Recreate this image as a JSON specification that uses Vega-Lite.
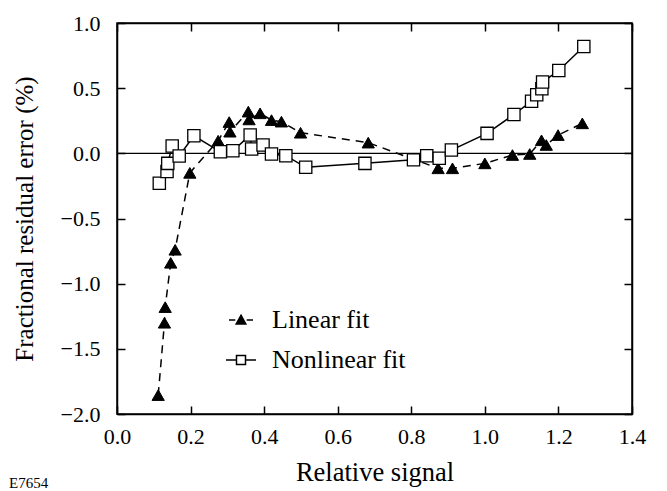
{
  "$schema": "https://vega.github.io/schema/vega-lite/v6.json",
  "width": 515,
  "height": 391,
  "autosize": {"type": "none"},
  "padding": {"left": 117, "top": 23, "right": 35, "bottom": 77},
  "background": "white",
  "config": {
    "view": {"stroke": "black", "strokeWidth": 1.5},
    "font": "Liberation Serif",
    "axis": {
      "grid": false,
      "domainColor": "black",
      "domainWidth": 1.5,
      "tickColor": "black",
      "tickWidth": 1.5,
      "tickSize": -8,
      "labelFont": "Liberation Serif",
      "labelFontSize": 22,
      "labelColor": "black",
      "titleFont": "Liberation Serif",
      "titleFontWeight": "normal",
      "titleColor": "black"
    }
  },
  "title": {
    "text": "E7654",
    "orient": "bottom",
    "anchor": "start",
    "frame": "bounds",
    "font": "Liberation Serif",
    "fontSize": 15,
    "fontWeight": "normal",
    "color": "black",
    "offset": 0,
    "dx": -3,
    "dy": -10
  },
  "data": {
    "values": [
      {"fit": "Linear fit", "signal": 0.112, "error": -1.855},
      {"fit": "Linear fit", "signal": 0.129, "error": -1.30},
      {"fit": "Linear fit", "signal": 0.131, "error": -1.18},
      {"fit": "Linear fit", "signal": 0.146, "error": -0.84},
      {"fit": "Linear fit", "signal": 0.158, "error": -0.74},
      {"fit": "Linear fit", "signal": 0.198, "error": -0.15},
      {"fit": "Linear fit", "signal": 0.275, "error": 0.097},
      {"fit": "Linear fit", "signal": 0.305, "error": 0.24},
      {"fit": "Linear fit", "signal": 0.307, "error": 0.166},
      {"fit": "Linear fit", "signal": 0.357, "error": 0.32},
      {"fit": "Linear fit", "signal": 0.359, "error": 0.26},
      {"fit": "Linear fit", "signal": 0.389, "error": 0.307},
      {"fit": "Linear fit", "signal": 0.42, "error": 0.255},
      {"fit": "Linear fit", "signal": 0.447, "error": 0.243},
      {"fit": "Linear fit", "signal": 0.499, "error": 0.158},
      {"fit": "Linear fit", "signal": 0.683, "error": 0.082},
      {"fit": "Linear fit", "signal": 0.873, "error": -0.115},
      {"fit": "Linear fit", "signal": 0.912, "error": -0.115},
      {"fit": "Linear fit", "signal": 1.0, "error": -0.077},
      {"fit": "Linear fit", "signal": 1.075, "error": -0.013},
      {"fit": "Linear fit", "signal": 1.122, "error": -0.005},
      {"fit": "Linear fit", "signal": 1.154, "error": 0.10},
      {"fit": "Linear fit", "signal": 1.167, "error": 0.064},
      {"fit": "Linear fit", "signal": 1.199, "error": 0.14},
      {"fit": "Linear fit", "signal": 1.265, "error": 0.23},
      {"fit": "Nonlinear fit", "signal": 0.115, "error": -0.23},
      {"fit": "Nonlinear fit", "signal": 0.136, "error": -0.14},
      {"fit": "Nonlinear fit", "signal": 0.138, "error": -0.077},
      {"fit": "Nonlinear fit", "signal": 0.15, "error": 0.056},
      {"fit": "Nonlinear fit", "signal": 0.169, "error": -0.02},
      {"fit": "Nonlinear fit", "signal": 0.209, "error": 0.135},
      {"fit": "Nonlinear fit", "signal": 0.281, "error": 0.012},
      {"fit": "Nonlinear fit", "signal": 0.315, "error": 0.02},
      {"fit": "Nonlinear fit", "signal": 0.362, "error": 0.14},
      {"fit": "Nonlinear fit", "signal": 0.366, "error": 0.033},
      {"fit": "Nonlinear fit", "signal": 0.397, "error": 0.064},
      {"fit": "Nonlinear fit", "signal": 0.42, "error": -0.005},
      {"fit": "Nonlinear fit", "signal": 0.459, "error": -0.018},
      {"fit": "Nonlinear fit", "signal": 0.513, "error": -0.107},
      {"fit": "Nonlinear fit", "signal": 0.674, "error": -0.077},
      {"fit": "Nonlinear fit", "signal": 0.806, "error": -0.05},
      {"fit": "Nonlinear fit", "signal": 0.842, "error": -0.018},
      {"fit": "Nonlinear fit", "signal": 0.876, "error": -0.038},
      {"fit": "Nonlinear fit", "signal": 0.909, "error": 0.025},
      {"fit": "Nonlinear fit", "signal": 1.006, "error": 0.153},
      {"fit": "Nonlinear fit", "signal": 1.079, "error": 0.298},
      {"fit": "Nonlinear fit", "signal": 1.127, "error": 0.40},
      {"fit": "Nonlinear fit", "signal": 1.141, "error": 0.45},
      {"fit": "Nonlinear fit", "signal": 1.155, "error": 0.496},
      {"fit": "Nonlinear fit", "signal": 1.157, "error": 0.547},
      {"fit": "Nonlinear fit", "signal": 1.201, "error": 0.636},
      {"fit": "Nonlinear fit", "signal": 1.269, "error": 0.82}
    ]
  },
  "resolve": {"axis": {"x": "independent", "y": "independent"}},
  "layer": [
    {
      "data": {"values": [{"zero": 0}]},
      "mark": {"type": "rule", "stroke": "black", "strokeWidth": 1.2},
      "encoding": {
        "y": {"field": "zero", "type": "quantitative", "axis": null}
      }
    },
    {
      "transform": [{"filter": "datum.fit === 'Linear fit'"}],
      "mark": {"type": "line", "stroke": "black", "strokeWidth": 1.5, "strokeDash": [8, 6]},
      "encoding": {
        "x": {
          "field": "signal", "type": "quantitative",
          "scale": {"domain": [0, 1.4], "nice": false, "zero": false},
          "axis": {"orient": "bottom", "values": [0, 0.2, 0.4, 0.6, 0.8, 1.0, 1.2, 1.4], "format": ".1f", "title": "Relative signal", "labelFont": "Liberation Serif", "labelFontSize": 22, "labelPadding": 20, "titleFont": "Liberation Serif", "titleFontSize": 26.5, "titlePadding": 12, "labelFlush": false}
        },
        "y": {
          "field": "error", "type": "quantitative",
          "scale": {"domain": [-2, 1], "nice": false, "zero": false},
          "axis": {"orient": "left", "values": [-2, -1.5, -1, -0.5, 0, 0.5, 1], "format": ".1f", "title": "Fractional residual error (%)", "labelFont": "Liberation Serif", "labelFontSize": 22, "labelPadding": 25, "titleFont": "Liberation Serif", "titleFontSize": 25, "titlePadding": 23, "labelFlush": false}
        }
      }
    },
    {
      "transform": [{"filter": "datum.fit === 'Nonlinear fit'"}],
      "mark": {"type": "line", "stroke": "black", "strokeWidth": 1.5},
      "encoding": {
        "x": {
          "field": "signal", "type": "quantitative",
          "axis": {"orient": "top", "values": [0, 0.2, 0.4, 0.6, 0.8, 1.0, 1.2, 1.4], "labels": false, "title": null}
        },
        "y": {
          "field": "error", "type": "quantitative",
          "axis": {"orient": "right", "values": [-2, -1.5, -1, -0.5, 0, 0.5, 1], "labels": false, "title": null}
        }
      }
    },
    {
      "transform": [{"filter": "datum.fit === 'Linear fit'"}],
      "mark": {"type": "point", "shape": "triangle-up", "filled": true, "fill": "black", "stroke": "black", "strokeWidth": 1, "size": 150, "opacity": 1},
      "encoding": {
        "x": {"field": "signal", "type": "quantitative", "axis": null},
        "y": {"field": "error", "type": "quantitative", "axis": null}
      }
    },
    {
      "transform": [{"filter": "datum.fit === 'Nonlinear fit'"}],
      "mark": {"type": "point", "shape": "square", "filled": true, "fill": "white", "stroke": "black", "strokeWidth": 1.3, "size": 150, "opacity": 1},
      "encoding": {
        "x": {"field": "signal", "type": "quantitative", "axis": null},
        "y": {"field": "error", "type": "quantitative", "axis": null}
      }
    },
    {
      "mark": {"type": "point", "filled": true, "stroke": "black", "strokeWidth": 1.5, "size": 0, "opacity": 1},
      "encoding": {
        "x": {"field": "signal", "type": "quantitative", "axis": null},
        "y": {"field": "error", "type": "quantitative", "axis": null},
        "shape": {
          "field": "fit", "type": "nominal",
          "scale": {"domain": ["Linear fit", "Nonlinear fit"], "range": ["M-0.8,0H-0.38M0.38,0H0.8M0,-0.32L0.32,0.26L-0.32,0.26Z", "M-1,0H-0.3M0.3,0H1M-0.3,-0.3H0.3V0.3H-0.3Z"]},
          "legend": {
            "title": null,
            "orient": "none",
            "legendX": 108,
            "legendY": 281,
            "labelFont": "Liberation Serif",
            "labelFontSize": 26,
            "labelColor": "black",
            "labelOffset": 15,
            "rowPadding": 11,
            "symbolSize": 900,
            "encode": {
              "symbols": {
                "update": {
                  "size": {"value": 900},
                  "stroke": {"value": "black"},
                  "strokeWidth": {"value": 1.5},
                  "opacity": {"value": 1}
                }
              }
            }
          }
        },
        "fill": {
          "field": "fit", "type": "nominal",
          "scale": {"domain": ["Linear fit", "Nonlinear fit"], "range": ["black", "white"]},
          "legend": {"title": null}
        }
      }
    }
  ]
}
